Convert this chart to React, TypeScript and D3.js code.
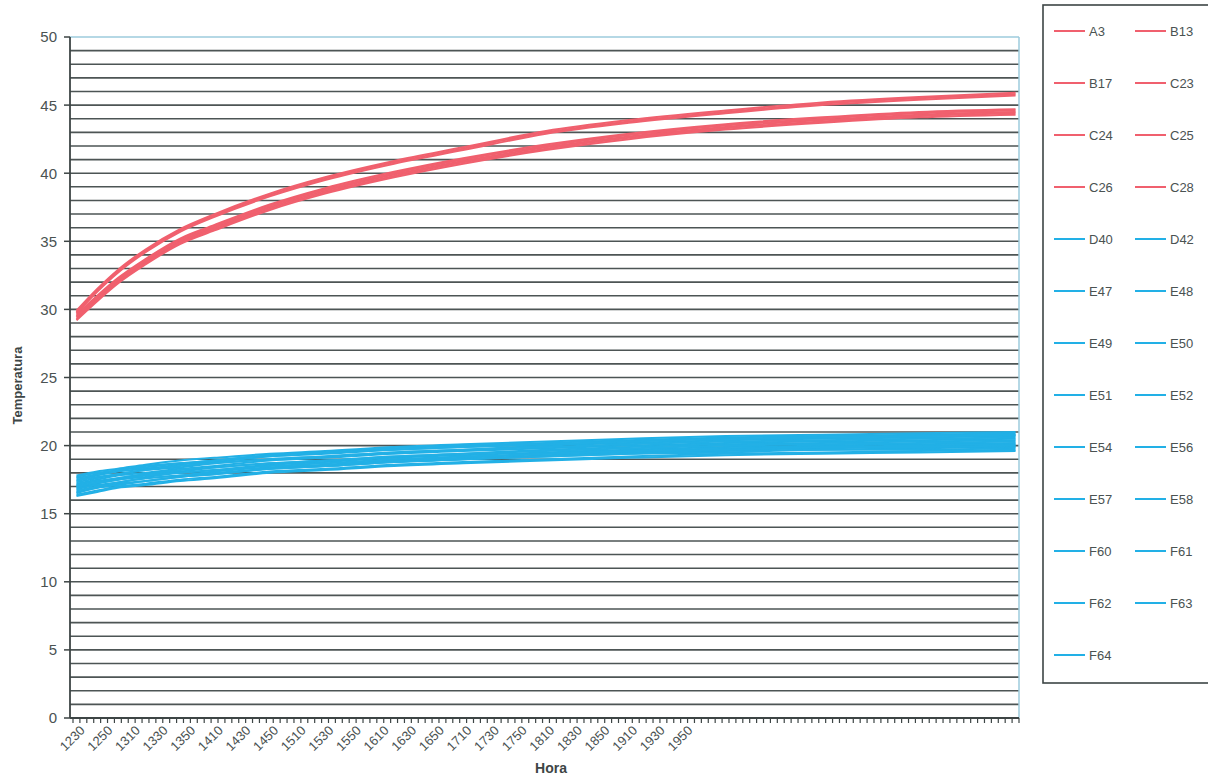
import React from "react";
import * as d3 from "d3";

// ---- data ----
const labelTimes = ["1230","1250","1310","1330","1350","1410","1430","1450","1510","1530","1550","1610","1630","1650","1710","1730","1750","1810","1830","1850","1910","1930","1950"];
const categoryCount = 137; // 5-minute steps
const labelEvery = 4;
const sampleIdx = [0, 3, 6, 10, 15, 20, 28, 36, 46, 56, 68, 80, 94, 108, 122, 136];

const redNames = ["A3", "B13", "B17", "C23", "C24", "C25", "C26", "C28"];
const redValues = [
  [29.8,31.4,32.8,34.3,35.8,36.9,38.4,39.6,40.8,41.8,43.0,43.8,44.5,45.1,45.5,45.8],
  [29.9,31.5,32.9,34.4,35.9,37.0,38.5,39.7,40.9,41.9,43.1,43.9,44.6,45.2,45.6,45.9],
  [29.7,31.3,32.7,34.2,35.7,36.8,38.3,39.5,40.7,41.7,42.9,43.7,44.4,45.0,45.4,45.7],
  [29.4,30.8,32.1,33.5,35.0,36.0,37.5,38.7,39.9,40.9,41.9,42.7,43.4,43.9,44.3,44.5],
  [29.6,31.0,32.3,33.7,35.2,36.2,37.7,38.9,40.1,41.1,42.1,42.9,43.6,44.1,44.5,44.7],
  [29.3,30.7,32.0,33.4,34.9,35.9,37.4,38.6,39.8,40.8,41.8,42.6,43.3,43.8,44.2,44.4],
  [29.5,30.9,32.2,33.6,35.1,36.1,37.6,38.8,40.0,41.0,42.0,42.8,43.5,44.0,44.4,44.6],
  [29.2,30.6,31.9,33.3,34.8,35.8,37.3,38.5,39.7,40.7,41.7,42.5,43.2,43.7,44.1,44.3],
];

const blueNames = ["D40","D42","E47","E48","E49","E50","E51","E52","E54","E56","E57","E58","F60","F61","F62","F63","F64"];
const blueValues = [
  [16.3,16.6,16.9,17.1,17.4,17.6,18.0,18.2,18.5,18.7,18.9,19.1,19.3,19.4,19.5,19.6],
  [16.6,16.9,17.2,17.4,17.7,17.9,18.3,18.5,18.8,19.0,19.2,19.4,19.6,19.7,19.8,19.9],
  [16.9,17.2,17.5,17.7,18.0,18.2,18.6,18.8,19.1,19.3,19.5,19.7,19.9,20.0,20.1,20.2],
  [17.2,17.5,17.8,18.0,18.3,18.5,18.9,19.1,19.4,19.6,19.8,20.0,20.2,20.3,20.4,20.5],
  [17.5,17.8,18.1,18.3,18.6,18.8,19.2,19.4,19.7,19.9,20.1,20.3,20.5,20.6,20.7,20.8],
  [17.8,18.1,18.3,18.6,18.9,19.1,19.4,19.6,19.9,20.1,20.3,20.5,20.7,20.8,20.9,21.0],
  [16.5,16.9,17.1,17.4,17.7,17.9,18.3,18.5,18.8,19.0,19.3,19.5,19.7,19.8,19.9,20.0],
  [17.0,17.3,17.6,17.9,18.1,18.4,18.7,18.9,19.2,19.4,19.7,19.9,20.1,20.2,20.3,20.4],
  [17.3,17.6,17.9,18.2,18.4,18.7,19.0,19.2,19.5,19.7,20.0,20.2,20.4,20.5,20.6,20.7],
  [16.8,17.1,17.3,17.6,17.8,18.0,18.3,18.5,18.8,19.0,19.2,19.4,19.5,19.7,19.7,19.8],
  [17.1,17.4,17.6,17.9,18.2,18.4,18.7,18.9,19.2,19.4,19.6,19.8,20.0,20.1,20.2,20.3],
  [17.6,17.9,18.2,18.4,18.7,18.9,19.3,19.5,19.8,20.0,20.2,20.4,20.6,20.7,20.8,20.9],
  [16.4,16.7,17.0,17.2,17.5,17.7,18.1,18.3,18.6,18.8,19.0,19.2,19.4,19.5,19.6,19.7],
  [16.7,17.0,17.3,17.6,17.8,18.1,18.4,18.6,18.9,19.1,19.4,19.6,19.8,19.9,20.0,20.1],
  [17.4,17.7,17.9,18.2,18.5,18.7,19.0,19.2,19.5,19.7,19.9,20.1,20.3,20.4,20.5,20.6],
  [17.0,17.3,17.5,17.8,18.0,18.2,18.5,18.7,19.0,19.2,19.4,19.6,19.7,19.9,19.9,20.0],
  [17.7,18.0,18.2,18.5,18.7,18.9,19.3,19.5,19.7,19.9,20.1,20.3,20.5,20.6,20.7,20.8],
];

const yTicks = [0, 5, 10, 15, 20, 25, 30, 35, 40, 45, 50];

const RED = "#f0606e";
const BLUE = "#22b0e6";

export default function App() {
  const W = 1208, H = 778;
  const left = 70, right = 1019, top = 37, bottom = 718;
  const cats = d3.range(categoryCount);
  const x = d3.scaleBand<number>().domain(cats).range([left + 3, right]).paddingInner(0).paddingOuter(0);
  const bw = x.bandwidth();
  const cx = (i: number) => (x(i) as number) + bw / 2;
  const y = d3.scaleLinear().domain([0, 50]).range([bottom, top]);
  const grid = d3.range(1, 50);

  const line = d3.line<[number, number]>()
    .x(d => cx(d[0]))
    .y(d => y(d[1]))
    .curve(d3.curveMonotoneX);

  const series = [
    ...redNames.map((n, k) => ({ name: n, color: RED, vals: redValues[k] })),
    ...blueNames.map((n, k) => ({ name: n, color: BLUE, vals: blueValues[k] })),
  ];

  const font = "Arial, 'Liberation Sans', sans-serif";
  const legendRowH = 52;
  const legendTop = 31;

  return (
    <svg width={W} height={H} style={{ position: "absolute", left: 0, top: 0, background: "#fff" }} fontFamily={font}>
      <rect x={0} y={0} width={W} height={H} fill="#fff" />
      {/* gridlines */}
      {grid.map(g => (
        <line key={g} x1={left} x2={right} y1={y(g)} y2={y(g)} stroke="#4d5555" strokeWidth={1.6} />
      ))}
      {/* plot border top/right */}
      <line x1={left} x2={right} y1={y(50)} y2={y(50)} stroke="#9ccbdc" strokeWidth={1.5} />
      <line x1={right} x2={right} y1={top} y2={bottom} stroke="#9ccbdc" strokeWidth={1.5} />
      {/* series */}
      {series.map(s => (
        <path key={s.name} d={line(sampleIdx.map((c, k) => [c, s.vals[k]] as [number, number])) || ""}
          fill="none" stroke={s.color} strokeWidth={2} />
      ))}
      {/* axes */}
      <line x1={left} x2={left} y1={top} y2={bottom} stroke="#3d4545" strokeWidth={1.8} />
      <line x1={left} x2={right} y1={bottom} y2={bottom} stroke="#3d4545" strokeWidth={1.8} />
      {yTicks.map(t => (
        <g key={t}>
          <line x1={left - 6} x2={left} y1={y(t)} y2={y(t)} stroke="#3d4545" strokeWidth={1.5} />
          <text x={left - 13} y={y(t)} dy="0.36em" textAnchor="end" fontSize={15} fill="#4a5252">{t}</text>
        </g>
      ))}
      {d3.range(categoryCount + 1).map(i => {
        const xx = i < categoryCount ? (x(i) as number) : right;
        return <line key={i} x1={xx} x2={xx} y1={bottom} y2={bottom + 5} stroke="#3d4545" strokeWidth={1.2} />;
      })}
      {labelTimes.map((lab, k) => {
        const xx = cx(k * labelEvery);
        return (
          <text key={lab} transform={`translate(${xx + 6},${bottom + 10}) rotate(-45)`} textAnchor="end"
            fontSize={13} fill="#4a5252" dy="0.35em">{lab}</text>
        );
      })}
      <text x={551} y={773} textAnchor="middle" fontSize={14} fontWeight="bold" fill="#3d4545">Hora</text>
      <text transform={`translate(22,${(top + bottom) / 2 + 8}) rotate(-90)`} textAnchor="middle" fontSize={13}
        fontWeight="bold" fill="#3d4545">Temperatura</text>
      {/* legend */}
      <rect x={1043} y={5} width={180} height={678} fill="#fff" stroke="#3d4545" strokeWidth={1.6} />
      {series.map((s, k) => {
        const col = k % 2, row = Math.floor(k / 2);
        const lx = col === 0 ? 1054 : 1135;
        const ly = legendTop + row * legendRowH;
        return (
          <g key={s.name}>
            <line x1={lx} x2={lx + 31} y1={ly} y2={ly} stroke={s.color} strokeWidth={2} />
            <text x={lx + 35} y={ly} dy="0.36em" fontSize={13} fill="#4a5252">{s.name}</text>
          </g>
        );
      })}
    </svg>
  );
}
